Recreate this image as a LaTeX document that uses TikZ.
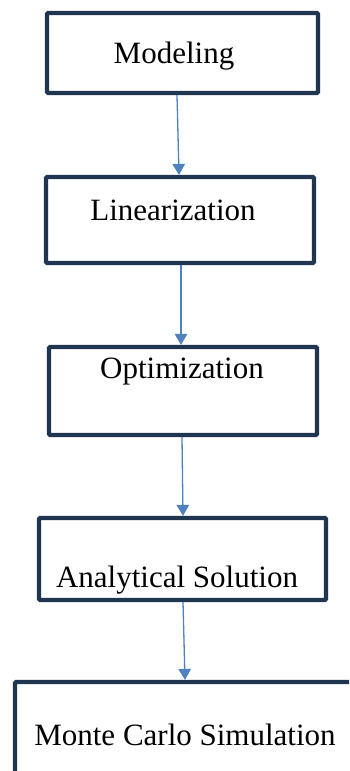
\documentclass[tikz,border=0pt]{standalone}
\usepackage{fontspec}
\setmainfont{Liberation Serif}
\usetikzlibrary{arrows.meta}
\definecolor{boxline}{HTML}{1F3550}
\definecolor{arrblue}{HTML}{4F81BD}
\begin{document}
\begin{tikzpicture}[x=1pt,y=-1pt,
  box/.style={draw=boxline, line width=4.2pt, rounded corners=1.2pt, fill=white, inner sep=0pt},
  lbl/.style={anchor=base, inner sep=0pt, font=\fontsize{31}{37}\selectfont, text=black},
  arr/.style={draw=arrblue, line width=1.3pt, -{Triangle[width=12.5pt,length=11pt]}}]
\useasboundingbox (0,0) rectangle (349,771);
\clip (0,0) rectangle (349,771);
\fill[white] (0,0) rectangle (349,771);
\node[box, minimum width=271pt, minimum height=80pt] (b1) at (182.5,53) {};
\node[box, minimum width=268pt, minimum height=86pt] (b2) at (180,220) {};
\node[box, minimum width=268pt, minimum height=88pt] (b3) at (183,391) {};
\node[box, minimum width=287pt, minimum height=82pt] (b4) at (182.5,559) {};
\node[box, minimum width=345pt, minimum height=108pt] (b5) at (187.5,736) {};
\node[lbl] (t1) at (174,63) {Modeling};
\node[lbl] (t2) at (173,220) {Linearization};
\node[lbl] (t3) at (182,378) {Optimization};
\node[lbl] (t4) at (177,587) {Analytical Solution};
\node[lbl] (t5) at (185,745) {Monte Carlo Simulation};
\draw[arr] ([xshift=-5.5pt]b1.south) -- ([xshift=-1pt]b2.north);
\draw[arr] ([xshift=1pt]b2.south) -- ([xshift=-2pt]b3.north);
\draw[arr] ([xshift=-1pt]b3.south) -- ([xshift=0.5pt]b4.north);
\draw[arr] ([xshift=0.5pt]b4.south) -- ([xshift=-2.5pt]b5.north);
\end{tikzpicture}
\end{document}
